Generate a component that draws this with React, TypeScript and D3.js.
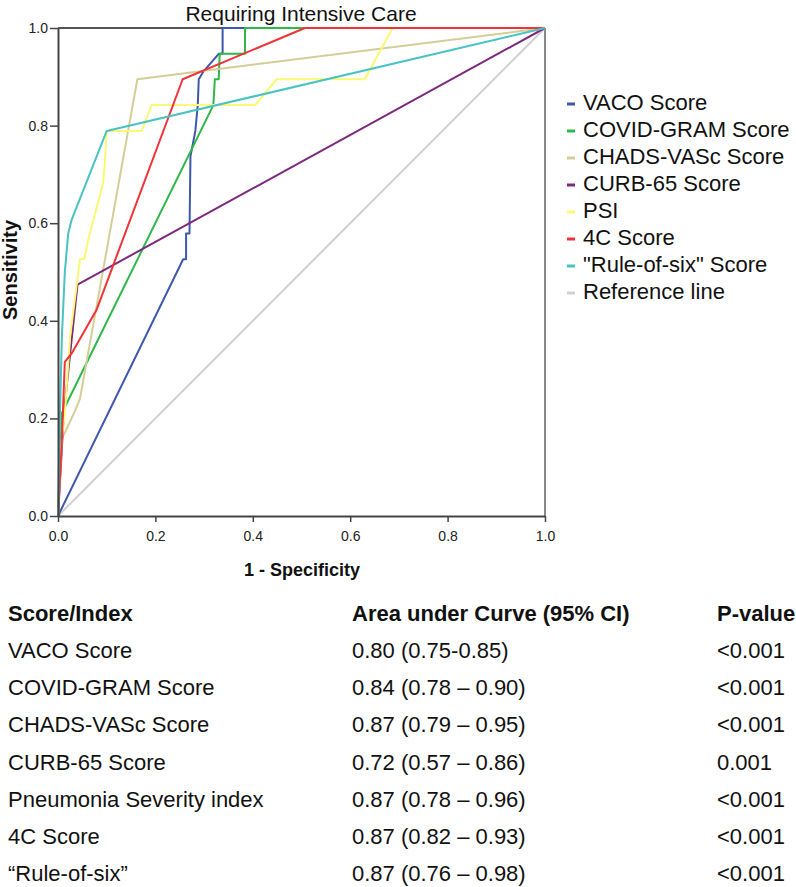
import React, { useEffect, useRef } from "react";
import * as d3 from "d3";

// ROC points [1 - specificity, sensitivity]
const vaco: [number, number][] = [
  [0, 0], [0.257, 0.526], [0.263, 0.526], [0.263, 0.579], [0.27, 0.579],
  [0.272, 0.737], [0.282, 0.789], [0.287, 0.842], [0.289, 0.895], [0.298, 0.91],
  [0.33, 0.947], [0.338, 0.947], [0.338, 1], [1, 1],
];
const covidGram: [number, number][] = [
  [0, 0], [0.008, 0.211], [0.018, 0.231], [0.319, 0.842], [0.322, 0.895],
  [0.33, 0.895], [0.332, 0.947], [0.384, 0.947], [0.384, 1], [1, 1],
];
const chadsVasc: [number, number][] = [
  [0, 0], [0.005, 0.105], [0.008, 0.158], [0.033, 0.211], [0.045, 0.24],
  [0.163, 0.895], [1, 1],
];
const curb65: [number, number][] = [
  [0, 0], [0.006, 0.105], [0.012, 0.211], [0.04, 0.474], [1, 1],
];
const psi: [number, number][] = [
  [0, 0], [0.005, 0.105], [0.008, 0.158], [0.014, 0.211], [0.025, 0.368],
  [0.045, 0.526], [0.054, 0.526], [0.062, 0.566], [0.093, 0.684], [0.097, 0.737],
  [0.1, 0.789], [0.172, 0.789], [0.192, 0.842], [0.405, 0.842], [0.449, 0.895],
  [0.63, 0.895], [0.687, 1], [1, 1],
];
const fourC: [number, number][] = [
  [0, 0], [0.008, 0.158], [0.014, 0.316], [0.028, 0.333], [0.079, 0.422],
  [0.256, 0.895], [0.507, 1], [1, 1],
];
const ruleOfSix: [number, number][] = [
  [0, 0], [0.004, 0.211], [0.008, 0.368], [0.014, 0.5], [0.021, 0.579],
  [0.028, 0.607], [0.1, 0.789], [1, 1],
];
const reference: [number, number][] = [[0, 0], [1, 1]];

const legendNames = [
  "VACO Score", "COVID-GRAM Score", "CHADS-VASc Score", "CURB-65 Score",
  "PSI", "4C Score", "\"Rule-of-six\" Score", "Reference line",
];
const colors = [
  "#3e58ac", "#2eb848", "#d3ce97", "#7c287d", "#fbf873", "#ef3338", "#48c2c5", "#d0d0d0",
];
const curves = [vaco, covidGram, chadsVasc, curb65, psi, fourC, ruleOfSix];

const tableHeader = ["Score/Index", "Area under Curve (95% CI)", "P-value"];
const scoreNames = [
  "VACO Score", "COVID-GRAM Score", "CHADS-VASc Score", "CURB-65 Score",
  "Pneumonia Severity index", "4C Score", "\u201CRule-of-six\u201D",
];
const aucTexts = [
  "0.80 (0.75-0.85)", "0.84 (0.78 \u2013 0.90)", "0.87 (0.79 \u2013 0.95)",
  "0.72 (0.57 \u2013 0.86)", "0.87 (0.78 \u2013 0.96)", "0.87 (0.82 \u2013 0.93)",
  "0.87 (0.76 \u2013 0.98)",
];
const pValues = ["<0.001", "<0.001", "<0.001", "0.001", "<0.001", "<0.001", "<0.001"];

const ticks = [0, 0.2, 0.4, 0.6, 0.8, 1.0];
const font = "'Liberation Sans', Arial, sans-serif";

export default function App() {
  const xAxisRef = useRef<SVGGElement>(null);
  const yAxisRef = useRef<SVGGElement>(null);

  const x = d3.scaleLinear().domain([0, 1]).range([58, 545]);
  const y = d3.scaleLinear().domain([0, 1]).range([516, 28]);
  const line = d3.line<[number, number]>().x(d => x(d[0])).y(d => y(d[1]));

  useEffect(() => {
    const fmt = d3.format(".1f");
    const xa = d3.select(xAxisRef.current!);
    xa.selectAll("*").remove();
    xa.call(d3.axisBottom(x).tickValues(ticks).tickFormat(fmt as any).tickSize(6).tickSizeOuter(0).tickPadding(9));
    const ya = d3.select(yAxisRef.current!);
    ya.selectAll("*").remove();
    ya.call(d3.axisLeft(y).tickValues(ticks).tickFormat(fmt as any).tickSize(8).tickSizeOuter(0).tickPadding(2));
    [xa, ya].forEach(a => {
      a.select(".domain").attr("stroke", "#444").attr("stroke-width", 2);
      a.selectAll(".tick line").attr("stroke", "#444").attr("stroke-width", 1.5);
      a.selectAll(".tick text").attr("fill", "#222").style("font-family", font).style("font-size", "14px");
    });
  });

  return (
    <svg width={796} height={887} style={{ position: "absolute", left: 0, top: 0, background: "#fff" }} fontFamily={font}>
      <text x={301} y={21} textAnchor="middle" fontSize={21} fill="#111">Requiring Intensive Care</text>

      {/* frame */}
      <line x1={x(0)} x2={x(1)} y1={y(1)} y2={y(1)} stroke="#555" strokeWidth={2} />
      <line x1={x(1)} x2={x(1)} y1={y(1)} y2={y(0)} stroke="#888" strokeWidth={2} />

      <path d={line(reference) || ""} fill="none" stroke={colors[7]} strokeWidth={2} />
      {curves.map((c, i) => (
        <path key={i} d={line(c) || ""} fill="none" stroke={colors[i]} strokeWidth={2} strokeLinejoin="round" />
      ))}

      <g ref={xAxisRef} transform={`translate(0,${y(0)})`} />
      <g ref={yAxisRef} transform={`translate(${x(0)},0)`} />

      <text x={302} y={576} textAnchor="middle" fontSize={18} fontWeight="bold" fill="#111">1 - Specificity</text>
      <text transform="translate(17,270) rotate(-90)" textAnchor="middle" fontSize={20} fontWeight="bold" fill="#111">Sensitivity</text>

      {/* legend */}
      {legendNames.map((n, i) => (
        <g key={n} transform={`translate(0,${110 + i * 27})`}>
          <line x1={567} x2={575} y1={-6} y2={-6} stroke={colors[i]} strokeWidth={3} />
          <text x={583} y={0} fontSize={22} fill="#111">{n}</text>
        </g>
      ))}

      {/* table */}
      <g fontSize={22} fill="#111">
        <text x={8} y={621} fontWeight="bold">{tableHeader[0]}</text>
        <text x={352} y={621} fontWeight="bold">{tableHeader[1]}</text>
        <text x={717} y={621} fontWeight="bold">{tableHeader[2]}</text>
        {scoreNames.map((s, i) => (
          <g key={s} transform={`translate(0,${658 + i * 37.2})`}>
            <text x={8} y={0}>{s}</text>
            <text x={352} y={0}>{aucTexts[i]}</text>
            <text x={717} y={0}>{pValues[i]}</text>
          </g>
        ))}
      </g>
    </svg>
  );
}
